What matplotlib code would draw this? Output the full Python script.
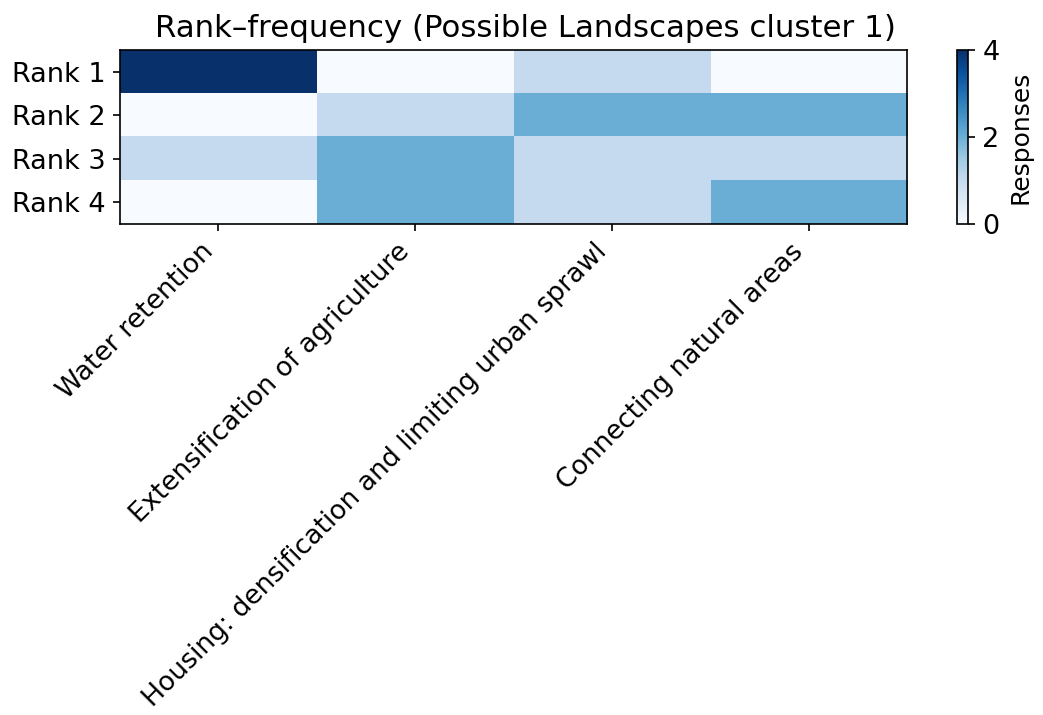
import matplotlib
matplotlib.use("Agg")
import matplotlib.pyplot as plt
import numpy as np

# rank-frequency counts, rows = ranks, columns = landscape themes
themes = ["Water retention",
          "Extensification of agriculture",
          "Housing: densification and limiting urban sprawl",
          "Connecting natural areas"]
ranks = ["Rank 1", "Rank 2", "Rank 3", "Rank 4"]
rank1 = [4, 0, 1, 0]
rank2 = [0, 1, 2, 2]
rank3 = [1, 2, 1, 1]
rank4 = [0, 2, 1, 2]

counts = np.array([rank1, rank2, rank3, rank4])

fig = plt.figure(figsize=(1043 / 150, 715 / 150), dpi=150)
ax = fig.add_axes([0.115, 0.6867, 0.7546, 0.2434])
cax = fig.add_axes([0.9175, 0.6867, 0.0105, 0.2434])

im = ax.imshow(counts, cmap="Blues", vmin=0, vmax=4, aspect="auto")
ax.set_xticks(range(len(themes)))
ax.set_xticklabels(themes, rotation=45, ha="right", fontsize=12.8)
ax.set_yticks(range(len(ranks)))
ax.set_yticklabels(ranks, fontsize=13)
ax.set_title("Rank\u2013frequency (Possible Landscapes cluster 1)",
             fontsize=14.8, x=0.515)

cb = fig.colorbar(im, cax=cax)
cb.set_ticks([0, 2, 4])
cb.ax.tick_params(labelsize=13)
cb.set_label("Responses", fontsize=12)

fig.savefig("out.png", dpi=150)
